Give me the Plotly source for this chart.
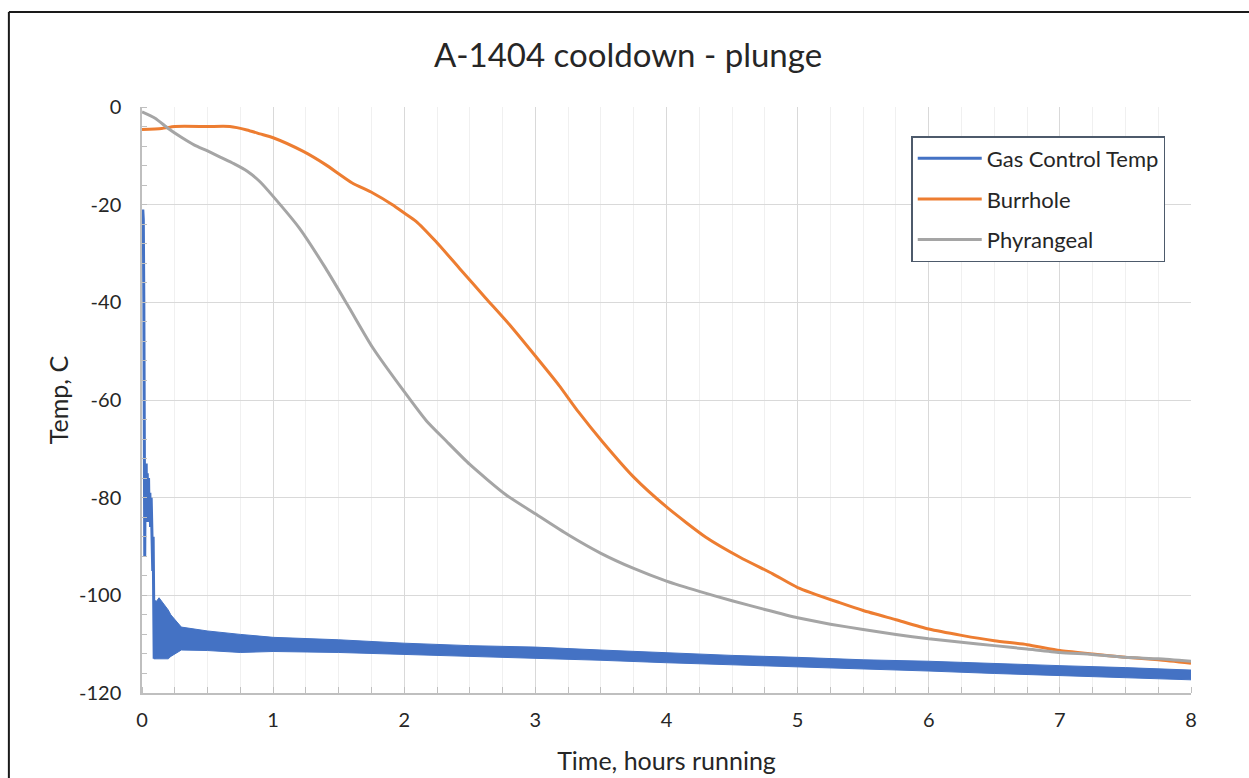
import plotly.graph_objects as go

# ---------------- data ----------------
burr_hours = [0, 0.15, 0.25, 0.5, 0.67, 0.8, 0.9, 1.0, 1.23, 1.4, 1.6, 1.76, 1.91, 2.0, 2.09,
              2.24, 2.42, 2.62, 2.8, 3.0, 3.18, 3.33, 3.51, 3.75, 4.0, 4.3, 4.56, 4.81, 5.0,
              5.32, 5.5, 5.75, 6.0, 6.25, 6.5, 6.75, 7.0, 7.25, 7.5, 7.75, 8.0]
burrhole = [-4.6, -4.4, -4.0, -4.0, -4.0, -4.7, -5.5, -6.3, -9.1, -11.8, -15.5, -17.6, -20.0,
            -21.7, -23.4, -27.5, -33.0, -39.1, -44.5, -51.0, -57.0, -62.5, -68.5, -75.8,
            -81.9, -88.1, -92.2, -95.6, -98.4, -101.5, -103.1, -105.0, -106.9, -108.2,
            -109.3, -110.1, -111.3, -112.0, -112.7, -113.2, -113.9]

phar_hours = [0, 0.1, 0.2, 0.3, 0.4, 0.5, 0.6, 0.7, 0.8, 0.9, 1.0, 1.2, 1.4, 1.58, 1.76, 2.0,
              2.17, 2.32, 2.5, 2.77, 3.0, 3.25, 3.5, 3.75, 4.0, 4.25, 4.5, 4.75, 5.0, 5.25,
              5.5, 5.75, 6.0, 6.25, 6.5, 6.75, 7.0, 7.25, 7.5, 7.75, 8.0]
phyrangeal = [-1.0, -2.3, -4.4, -6.2, -7.8, -9.0, -10.3, -11.6, -13.1, -15.3, -18.3, -24.8,
              -33.0, -41.1, -49.3, -58.3, -64.3, -68.4, -73.2, -79.3, -83.3, -87.6, -91.4,
              -94.5, -97.1, -99.2, -101.1, -102.9, -104.6, -105.9, -107.0, -108.0, -108.9,
              -109.6, -110.3, -111.0, -111.7, -112.1, -112.7, -113.0, -113.5]

# Gas control temp: initial noisy plunge (read point by point)
gas_spike_hours = [0.006, 0.010, 0.014, 0.017, 0.019, 0.021, 0.024, 0.028, 0.032, 0.036,
                   0.040, 0.045, 0.050, 0.055, 0.060, 0.065, 0.070, 0.074, 0.078, 0.082,
                   0.085, 0.088, 0.090, 0.093, 0.097, 0.100]
gas_spike = [-21, -23, -40, -60, -80, -92, -74, -84, -73, -85, -75, -83, -76, -85, -79, -86,
             -80, -88, -86, -95, -88, -104, -97, -113, -101, -112]

# Gas control temp: noisy band afterwards (upper / lower envelope)
gas_band_hours = [0.09, 0.13, 0.2, 0.22, 0.3, 0.5, 0.75, 1.0, 1.5, 2.0, 2.5, 3.0, 3.5, 4.0,
                  4.5, 5.0, 5.5, 6.0, 6.5, 7.0, 7.5, 8.0]
gas_upper = [-102, -100.5, -103, -104, -106.5, -107.3, -108, -108.6, -109.1, -109.8, -110.3,
             -110.6, -111.2, -111.8, -112.3, -112.7, -113.2, -113.5, -114.0, -114.4, -114.8,
             -115.3]
gas_lower = [-113, -113, -113, -112.5, -111.2, -111.3, -111.7, -111.5, -111.7, -112.2, -112.6,
             -112.9, -113.3, -113.8, -114.3, -114.7, -115.1, -115.5, -116.0, -116.4, -116.9,
             -117.3]

x_ticks = [0, 1, 2, 3, 4, 5, 6, 7, 8]
y_ticks = [0, -20, -40, -60, -80, -100, -120]

BLUE = "#4472C4"
ORANGE = "#ED7D31"
GRAY = "#A5A5A5"
FONT = "Lato"
TXT = "#262626"

fig = go.Figure()

fig.add_trace(go.Scatter(
    x=gas_band_hours + gas_band_hours[::-1],
    y=gas_upper + gas_lower[::-1],
    mode="lines", fill="toself", fillcolor=BLUE,
    line=dict(color=BLUE, width=1), showlegend=False, hoverinfo="skip"))
fig.add_trace(go.Scatter(
    x=gas_spike_hours, y=gas_spike, mode="lines", name="Gas Control Temp",
    line=dict(color=BLUE, width=3), legendgroup="a"))
fig.add_trace(go.Scatter(
    x=burr_hours, y=burrhole, mode="lines", name="Burrhole",
    line=dict(color=ORANGE, width=3, shape="spline", smoothing=0.6), legendgroup="b"))
fig.add_trace(go.Scatter(
    x=phar_hours, y=phyrangeal, mode="lines", name="Phyrangeal",
    line=dict(color=GRAY, width=3, shape="spline", smoothing=0.6), legendgroup="c"))

FRAME = dict(color="#1a1a1a", width=2)

fig.update_layout(
    width=1249, height=778,
    margin=dict(l=142, r=58, t=107, b=85, autoexpand=False),
    paper_bgcolor="white", plot_bgcolor="white",
    font=dict(family=FONT, color=TXT, size=20),
    title=dict(text="A-1404 cooldown - plunge", x=0.5028, xref="container", xanchor="center",
               y=1 - 55 / 778, yref="container", yanchor="middle",
               font=dict(family=FONT, size=33, color=TXT)),
    showlegend=True,
    legend=dict(x=0.7333, y=0.9505, xanchor="left", yanchor="top",
                bordercolor="#4d5a6b", borderwidth=1.5, bgcolor="white",
                font=dict(family=FONT, size=22, color=TXT),
                tracegroupgap=9, itemwidth=64),
    shapes=[
        dict(type="line", xref="paper", yref="paper", x0=-0.1269, x1=1.2,
             y0=1.1622, y1=1.1622, line=FRAME, layer="below"),
        dict(type="line", xref="paper", yref="paper", x0=-0.1269, x1=-0.1269,
             y0=-0.3, y1=1.1622, line=FRAME, layer="below"),
    ],
)

fig.update_xaxes(
    range=[0, 8], tickvals=x_ticks, ticktext=[str(v) for v in x_ticks],
    showgrid=True, gridcolor="#D9D9D9", gridwidth=1,
    showline=True, linecolor="#BFBFBF", linewidth=1.5,
    ticks="", ticklabelstandoff=8, zeroline=False, automargin=False,
    tickfont=dict(family=FONT, size=20, color=TXT),
    minor=dict(dtick=0.25, showgrid=True, gridcolor="#F0F0F0", gridwidth=1,
               ticks="inside", ticklen=6, tickcolor="#BFBFBF"),
    title=dict(text="Time, hours running", standoff=23,
               font=dict(family=FONT, size=25, color=TXT)),
)
fig.update_yaxes(
    range=[-120, 0], tickvals=y_ticks, ticktext=[str(v) for v in y_ticks],
    showgrid=True, gridcolor="#D9D9D9", gridwidth=1,
    showline=True, linecolor="#BFBFBF", linewidth=1.5,
    ticks="", ticklabelstandoff=15, zeroline=False, automargin=False,
    tickfont=dict(family=FONT, size=20, color=TXT),
    minor=dict(dtick=4, showgrid=False, ticks="inside", ticklen=5, tickcolor="#BFBFBF"),
    title=dict(text="Temp, C", standoff=3,
               font=dict(family=FONT, size=25, color=TXT)),
)

# remove the browser's default 8px page margin so the figure fills the window exactly
fig.write_html(
    "out.html",
    config={"displayModeBar": False},
    post_script="document.body.style.margin='0';document.body.style.overflow='hidden';",
)
